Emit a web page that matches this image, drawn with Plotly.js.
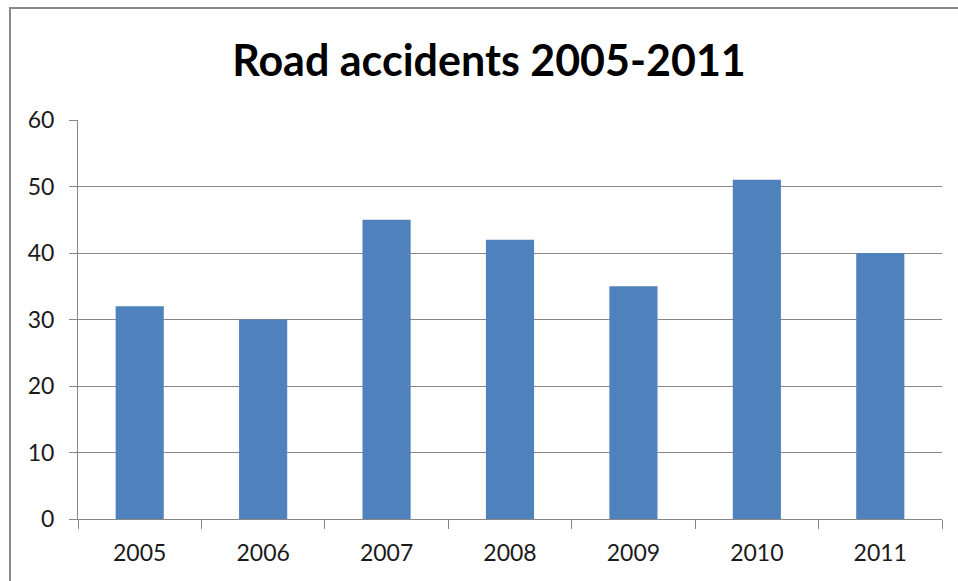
<!DOCTYPE html>
<html><head><meta charset="utf-8">
<script src="https://cdn.plot.ly/plotly-3.0.1.min.js"></script>
<style>
html,body{margin:0;padding:0;background:#fff;}
#wrap{position:relative;width:958px;height:581px;overflow:hidden;}
#chart{position:absolute;left:0;top:0;width:958px;height:581px;}
#frame{position:absolute;left:9px;top:7px;width:1000px;height:700px;border-left:2px solid #8a8a8a;border-top:2px solid #8a8a8a;pointer-events:none;}
</style></head>
<body>
<div id="wrap"><div id="chart"></div><div id="frame"></div></div>
<script>
const years = ['2005','2006','2007','2008','2009','2010','2011'];
const accidents = [32, 30, 45, 42, 35, 51, 40];
const yTicks = [0, 10, 20, 30, 40, 50, 60];
const titleText = 'Road accidents 2005-2011';

const fontFam = 'Lato, "Open Sans", sans-serif';
const trace = {
  type: 'bar',
  x: years,
  y: accidents,
  marker: {color: '#4F81BD'},
  hoverinfo: 'x+y'
};
const layout = {
  width: 958, height: 581,
  margin: {l: 78, r: 16, t: 120, b: 62, pad: 0},
  paper_bgcolor: '#ffffff', plot_bgcolor: '#ffffff',
  showlegend: false,
  bargap: 0.61,
  title: {
    text: '<b>' + titleText + '</b>',
    font: {family: fontFam, size: 43, color: '#000000'},
    x: 489/958, xref: 'container', xanchor: 'center',
    y: 1 - 61/581, yref: 'container', yanchor: 'middle'
  },
  xaxis: {
    type: 'category',
    tickson: 'boundaries',
    ticks: 'outside', ticklen: 9, tickcolor: '#878787', tickwidth: 1,
    showline: true, linecolor: '#878787', linewidth: 1,
    showgrid: false, zeroline: false,
    tickfont: {family: fontFam, size: 23, color: '#1a1a1a'},
    ticklabelstandoff: 13
  },
  yaxis: {
    range: [0, 60],
    tickvals: yTicks,
    ticktext: yTicks.map(String),
    ticks: 'outside', ticklen: 8, tickcolor: '#878787', tickwidth: 1,
    showline: true, linecolor: '#878787', linewidth: 1,
    showgrid: true, gridcolor: '#878787', gridwidth: 1,
    zeroline: false,
    tickfont: {family: fontFam, size: 23, color: '#1a1a1a'},
    ticklabelstandoff: 10
  }
};
Plotly.newPlot('chart', [trace], layout, {displayModeBar: false, staticPlot: true});
</script>
</body></html>
